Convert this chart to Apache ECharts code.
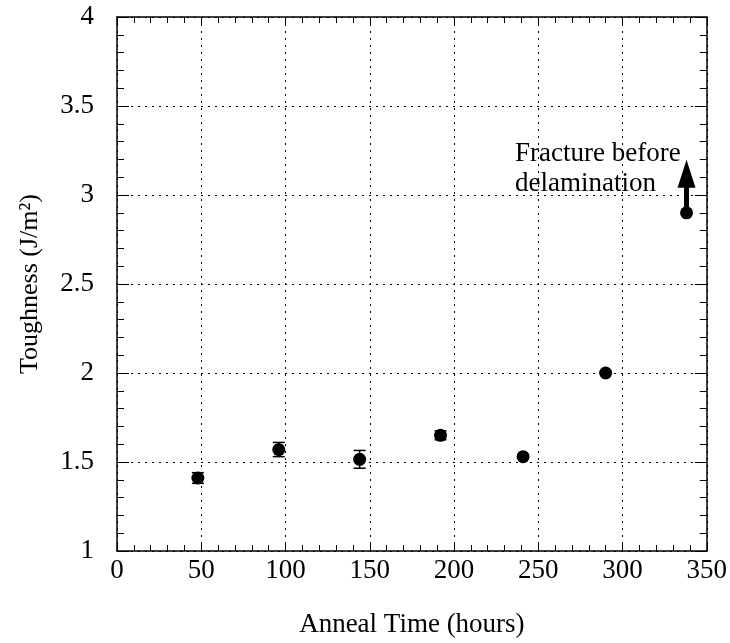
<!DOCTYPE html>
<html>
<head>
<meta charset="utf-8">
<script src="https://cdn.jsdelivr.net/npm/echarts@6/dist/echarts.min.js"></script>
<style>
  html, body { margin: 0; padding: 0; background: #fff; }
  #chart { width: 730px; height: 643px; }
</style>
</head>
<body>
<div id="chart"></div>
<script>
// anneal time (hours) / toughness (J/m2) / error half-widths
var annealTime = [48, 96, 144, 192, 241, 290];
var toughness = [1.41, 1.57, 1.515, 1.65, 1.53, 2.0];
var toughErr = [0.03, 0.04, 0.05, 0.025, 0, 0];
// last point: fracture before delamination (lower bound)
var boundPoint = [338, 2.9];
var boundArrowTop = 3.12;

var font = "'Liberation Serif', 'Times New Roman', serif";
var chart = echarts.init(document.getElementById('chart'));

var pts = annealTime.map(function (t, i) { return [t, toughness[i]]; });
var errData = annealTime.map(function (t, i) {
  return [t, toughness[i] - toughErr[i], toughness[i] + toughErr[i]];
}).filter(function (d, i) { return toughErr[i] > 0; });

function axisX(pos, showLabel) {
  return {
    type: 'value', position: pos, min: 0, max: 350, interval: 50,
    axisLine: { show: true, onZero: false, lineStyle: { color: '#000', width: 1.5 } },
    axisTick: { show: true, inside: true, length: 9, lineStyle: { color: '#000' } },
    minorTick: { show: true, splitNumber: 5, length: 6, lineStyle: { color: '#000' } },
    axisLabel: { show: showLabel, color: '#000', fontFamily: font, fontSize: 27, margin: 6 },
    splitLine: { show: showLabel, lineStyle: { color: '#000', type: [2, 5], width: 1 } },
    name: showLabel ? 'Anneal Time (hours)' : '',
    nameLocation: 'middle', nameGap: 60,
    nameTextStyle: { color: '#000', fontFamily: font, fontSize: 27 }
  };
}
function axisY(pos, showLabel) {
  return {
    type: 'value', position: pos, min: 1, max: 4, interval: 0.5,
    axisLine: { show: true, onZero: false, lineStyle: { color: '#000', width: 1.5 } },
    axisTick: { show: true, inside: true, length: 12, lineStyle: { color: '#000' } },
    minorTick: { show: true, splitNumber: 5, length: 7, lineStyle: { color: '#000' } },
    axisLabel: { show: showLabel, color: '#000', fontFamily: font, fontSize: 27, margin: 23 },
    splitLine: { show: showLabel, lineStyle: { color: '#000', type: [2, 5], width: 1 } },
    name: showLabel ? 'Toughness (J/m²)' : '',
    nameLocation: 'middle', nameGap: 74,
    nameTextStyle: { color: '#000', fontFamily: font, fontSize: 26 }
  };
}

var option = {
  backgroundColor: '#fff',
  animation: false,
  grid: { left: 117, right: 22, top: 17, bottom: 91 },
  xAxis: [axisX('bottom', true), axisX('top', false)],
  yAxis: [axisY('left', true), axisY('right', false)],
  series: [
    {
      type: 'custom',
      data: errData,
      renderItem: function (params, api) {
        var lo = api.coord([api.value(0), api.value(1)]);
        var hi = api.coord([api.value(0), api.value(2)]);
        var w = 6;
        var st = { stroke: '#000', lineWidth: 1.5 };
        return {
          type: 'group',
          children: [
            { type: 'line', shape: { x1: lo[0], y1: lo[1], x2: hi[0], y2: hi[1] }, style: st },
            { type: 'line', shape: { x1: lo[0] - w, y1: lo[1], x2: lo[0] + w, y2: lo[1] }, style: st },
            { type: 'line', shape: { x1: hi[0] - w, y1: hi[1], x2: hi[0] + w, y2: hi[1] }, style: st }
          ]
        };
      },
      z: 3
    },
    {
      type: 'scatter',
      data: pts.concat([boundPoint]),
      symbol: 'circle',
      symbolSize: 13,
      itemStyle: { color: '#000', opacity: 1 },
      z: 4
    },
    {
      type: 'line',
      data: [],
      markLine: {
        silent: true,
        symbol: ['none', 'triangle'],
        symbolSize: [18, 28],
        label: { show: false },
        lineStyle: { color: '#000', width: 5, type: 'solid', opacity: 1 },
        data: [[
          { coord: boundPoint, symbol: 'none' },
          { coord: [boundPoint[0], boundArrowTop], symbol: 'triangle', symbolRotate: 0 }
        ]]
      }
    }
  ],
  graphic: [
    {
      type: 'text', left: 515, top: 139,
      style: {
        text: 'Fracture before\ndelamination', fill: '#000',
        font: '27px ' + font, lineHeight: 30
      }
    }
  ]
};
chart.setOption(option);
</script>
</body>
</html>
